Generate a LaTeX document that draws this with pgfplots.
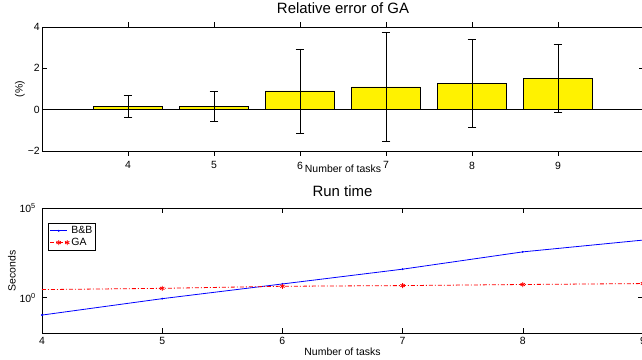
\documentclass[border=0pt]{standalone}
\usepackage{fontspec}
\setmainfont{Liberation Sans}
\usepackage{pgfplots}
\pgfplotsset{compat=1.18}
\begin{document}
\begin{tikzpicture}
\pgfplotsset{
  common/.style={
    scale only axis,
    anchor=south west,
    axis line style={black, line width=0.9bp},
    tick style={black, line width=0.6bp},
    major tick length=5bp,
    /pgf/number format/assume math mode=true,
    tick label style={font=\fontsize{10.5}{12}\selectfont},
    label style={font=\fontsize{10.5}{12}\selectfont},
    title style={font=\fontsize{15}{17}\selectfont, at={(axis description cs:0.5,1)}, anchor=south, inner sep=0pt},
    xlabel style={at={(axis description cs:0.5,0)}, anchor=north, inner sep=0pt, yshift=-14bp},
    xticklabel style={inner sep=0pt, anchor=north},
    yticklabel style={inner sep=0pt, anchor=east},
    xtick={4,...,9},
  }
}
\begin{axis}[common,
  at={(42bp,209bp)}, width=602bp, height=124bp,
  xmin=3, xmax=10, ymin=-2, ymax=4,
  ytick={-2,0,2,4}, yticklabels={−2,0,2,4},
  xticklabel style={yshift=-5.5bp},
  yticklabel style={xshift=-2bp},
  ybar, bar width=0.8,
  title={Relative error of GA}, title style={yshift=6.8bp},
  xlabel={Number of tasks},
  ylabel={(\%)}, ylabel style={at={(axis description cs:0,0.5)}, anchor=center, rotate=0, yshift=22bp},
]
\addplot[fill=yellow, draw=black, line width=0.6bp,
  error bars/.cd, y dir=both, y explicit,
  error bar style={black, line width=0.6bp},
  error mark options={rotate=90, black, mark size=4.3bp, line width=0.6bp}]
  table[x=x, y=y, y error=e] {
x y e
4 0.15 0.54
5 0.15 0.72
6 0.91 2.03
7 1.10 2.63
8 1.28 2.11
9 1.52 1.66
};
\draw[black, line width=0.6bp] (axis cs:3,0) -- (axis cs:10,0);
\end{axis}
\begin{axis}[common,
  at={(42bp,26.7bp)}, width=601bp, height=125bp,
  xmin=4, xmax=9, ymode=log, ymin=1e-2, ymax=1e5,
  ytick={1,1e5}, yticklabels={10\textsuperscript{0},10\textsuperscript{5}},
  yminorticks=false,
  xticklabel style={yshift=-3.4bp},
  yticklabel style={xshift=-6bp},
  title={Run time}, title style={yshift=5.5bp},
  xlabel={Number of tasks},
  ylabel={Seconds}, ylabel style={at={(axis description cs:0,0.5)}, anchor=center, yshift=30bp},
  legend style={at={(axis description cs:0.01,0.885)}, anchor=north west, draw=black, line width=0.6bp,
    font=\fontsize{10.5}{12}\selectfont, inner sep=1.5bp, row sep=-1bp},
  legend cell align=left,
]
\addplot[blue, line width=0.8bp, mark=*, mark size=0.5bp] table {
x y
4 0.105
5 0.87
6 5.8
7 39
8 363
9 1660
};
\addlegendentry{B\&B}
\addplot[red, line width=0.8bp, dash pattern=on 4bp off 2bp on 1bp off 2bp,
  mark=asterisk, mark size=2.5bp, mark options={solid}, mark indices={2,3,4,5,6}] table {
x y
4 2.8
5 3.3
6 4.3
7 4.7
8 5.4
9 6.1
};
\addlegendentry{GA}
\end{axis}
\pgfresetboundingbox
\path[use as bounding box] (0,0) rectangle (642bp,360bp);
\end{tikzpicture}
\end{document}
